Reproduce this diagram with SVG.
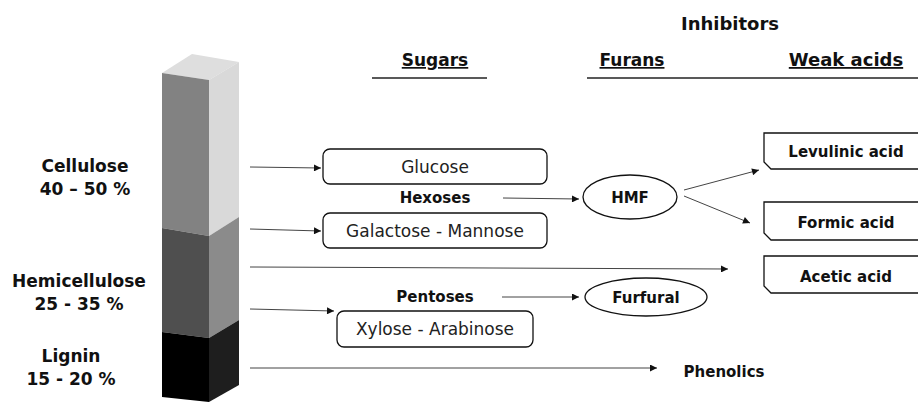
<svg xmlns="http://www.w3.org/2000/svg" width="918" height="402" viewBox="0 0 918 402">
<style>
text{font-family:"DejaVu Sans","Liberation Sans",sans-serif;fill:#111}
.b{font-weight:bold}
.lbl{font-size:17px;font-weight:bold;text-anchor:middle}
.hd{font-size:17px;font-weight:bold;text-anchor:middle;text-decoration:underline}
.sm{font-size:15px;font-weight:bold;text-anchor:middle}
.rg{font-size:17px;text-anchor:middle;fill:#222}
.box{fill:#fff;stroke:#111;stroke-width:1.3}
.ac{fill:#fff;stroke:#111;stroke-width:1.3}
.cn line{stroke:#444;stroke-width:1}
</style>
<defs>
<marker id="ah" viewBox="0 0 10 10" refX="10" refY="5" markerWidth="8" markerHeight="7" markerUnits="userSpaceOnUse" orient="auto">
<path d="M0,0 L10,5 L0,10 z" fill="#111"/>
</marker>
</defs>
<rect width="918" height="402" fill="#fff"/>

<g id="column">
<polygon points="162,73 192,54 239,62 209,80" fill="#dedede"/>
<polygon points="162,73 209,80 209,236 162,228" fill="#828282"/>
<polygon points="209,80 239,62 239,217 209,236" fill="#d9d9d9"/>
<polygon points="162,228 209,236 209,338 162,332" fill="#4f4f4f"/>
<polygon points="209,236 239,217 239,320 209,338" fill="#8b8b8b"/>
<polygon points="162,332 209,338 209,402 162,397" fill="#000"/>
<polygon points="209,338 239,320 239,385 209,402" fill="#1e1e1e"/>
</g>

<g id="labels">
<text class="lbl" x="85" y="172">Cellulose</text>
<text class="lbl" x="85" y="195">40 – 50 %</text>
<text class="lbl" x="79" y="287">Hemicellulose</text>
<text class="lbl" x="79" y="310">25 - 35 %</text>
<text class="lbl" x="71" y="362">Lignin</text>
<text class="lbl" x="71" y="385">15 - 20 %</text>
</g>

<g id="headers">
<text class="lbl" x="730" y="30" style="font-size:18px">Inhibitors</text>
<text class="hd" x="435" y="66">Sugars</text>
<text class="hd" x="632" y="66">Furans</text>
<text class="hd" x="846" y="66" style="font-size:18px">Weak acids</text>
<line x1="372" y1="78" x2="487" y2="78" stroke="#222" stroke-width="1.3"/>
<line x1="587" y1="78" x2="918" y2="78" stroke="#222" stroke-width="1.3"/>
</g>

<g id="glucose">
<rect class="box" x="323" y="149" width="224" height="35" rx="7"/>
<text class="rg" x="435" y="173">Glucose</text>
</g>
<g id="hexoses"><text class="sm" x="435" y="203">Hexoses</text></g>
<g id="galactose">
<rect class="box" x="323" y="213" width="224" height="35" rx="7"/>
<text class="rg" x="435" y="237">Galactose - Mannose</text>
</g>
<g id="pentoses"><text class="sm" x="435" y="302">Pentoses</text></g>
<g id="xylose">
<rect class="box" x="337" y="311" width="196" height="36" rx="7"/>
<text class="rg" x="435" y="335">Xylose - Arabinose</text>
</g>

<g id="hmf">
<ellipse class="box" cx="630" cy="197" rx="47" ry="22"/>
<text class="sm" x="630" y="203">HMF</text>
</g>
<g id="furfural">
<ellipse class="box" cx="646" cy="297" rx="61" ry="19"/>
<text class="sm" x="646" y="303">Furfural</text>
</g>

<g id="levulinic">
<path class="ac" d="M920,133 H764 V162 L771,169 H920"/>
<text class="sm" x="846" y="157">Levulinic acid</text>
</g>
<g id="formic">
<path class="ac" d="M920,202 H764 V233 L771,240 H920"/>
<text class="sm" x="846" y="228">Formic acid</text>
</g>
<g id="acetic">
<path class="ac" d="M920,256 H764 V286 L771,293 H920"/>
<text class="sm" x="846" y="282">Acetic acid</text>
</g>
<g id="phenolics"><text class="sm" x="724" y="377">Phenolics</text></g>

<g class="cn" id="connectors">
<line x1="250" y1="167" x2="321" y2="168" marker-end="url(#ah)"/>
<line x1="250" y1="229" x2="321" y2="231" marker-end="url(#ah)"/>
<line x1="250" y1="267" x2="728" y2="269" marker-end="url(#ah)"/>
<line x1="250" y1="309" x2="334" y2="311" marker-end="url(#ah)"/>
<line x1="250" y1="368" x2="657" y2="368" marker-end="url(#ah)"/>
<line x1="503" y1="198" x2="579" y2="199" marker-end="url(#ah)"/>
<line x1="502" y1="297" x2="579" y2="297" marker-end="url(#ah)"/>
<line x1="684" y1="190" x2="759" y2="170" marker-end="url(#ah)"/>
<line x1="684" y1="196" x2="750" y2="223" marker-end="url(#ah)"/>
</g>
</svg>
